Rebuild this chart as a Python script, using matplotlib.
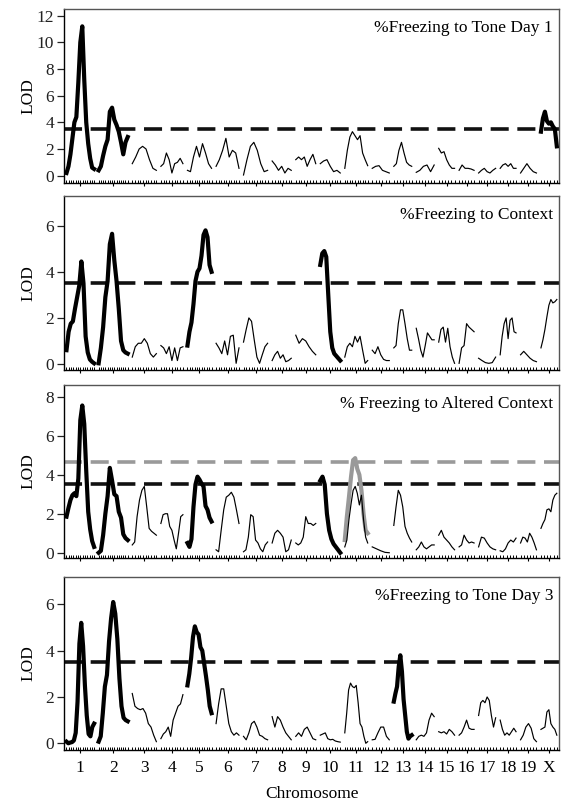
import numpy as np
import matplotlib
matplotlib.use("Agg")
import matplotlib.pyplot as plt

plt.rcParams['font.family'] = ['Liberation Serif', 'DejaVu Serif']
plt.rcParams['lines.scale_dashes'] = False

# ---------------- data ----------------
chromosomes = ['1', '2', '3', '4', '5', '6', '7', '8', '9', '10',
               '11', '12', '13', '14', '15', '16', '17', '18', '19', 'X']
chrom_len_cM = [94, 99, 82, 75, 82, 78, 82, 65, 68, 68,
                78, 58, 61, 61, 54, 51, 58, 54, 54, 54]
chrom_gap_cM = 15.4
markers_per_chrom = [13, 14, 10, 9, 11, 10, 10, 8, 8, 8,
                     10, 6, 7, 7, 6, 6, 7, 6, 6, 6]

threshold_black = 3.5
threshold_gray = 4.65

titles = ['%Freezing to Tone Day 1', '%Freezing to Context',
          '% Freezing to Altered Context', '%Freezing to Tone Day 3']

lod_tone_day1 = [
    [0.2, 0.7, 1.6, 2.8, 4.0, 4.4, 7.0, 10.0, 11.2, 7.2, 4.0, 2.4, 1.3, 0.6, 0.5],
    [0.4, 0.7, 1.5, 2.2, 2.7, 4.8, 5.1, 4.2, 3.8, 3.3, 2.5, 1.6, 2.5, 2.9],
    [0.9, 1.4, 2.0, 2.2, 2.0, 1.2, 0.55, 0.4],
    [0.7, 0.9, 1.7, 1.2, 0.2, 0.9, 1.0, 1.3, 0.9],
    [0.4, 0.3, 1.4, 2.2, 1.4, 2.4, 1.7, 0.9, 0.55],
    [0.7, 1.2, 1.9, 2.8, 1.4, 1.9, 1.7, 0.55],
    [0.05, 1.2, 2.2, 2.5, 1.9, 0.9, 0.3, 0.4],
    [1.1, 0.8, 0.4, 0.7, 0.2, 0.55, 0.4],
    [1.2, 1.4, 1.2, 1.4, 0.7, 1.2, 1.6, 0.9],
    [0.9, 1.1, 1.2, 0.7, 0.3, 0.4, 0.2],
    [0.55, 1.9, 2.9, 3.3, 3.0, 2.7, 3.0, 1.7, 1.2, 0.75],
    [0.55, 0.7, 0.75, 0.4, 0.3, 0.2],
    [0.7, 0.9, 1.9, 2.5, 1.7, 1.0, 0.8, 0.7],
    [0.25, 0.4, 0.7, 0.8, 0.3, 0.8],
    [2.05, 1.7, 1.8, 1.2, 0.8, 0.55, 0.55],
    [0.4, 0.8, 0.55, 0.55, 0.5, 0.4],
    [0.2, 0.4, 0.55, 0.3, 0.2, 0.4, 0.55],
    [0.55, 0.8, 0.9, 0.7, 0.9, 0.55, 0.55],
    [0.2, 0.55, 0.9, 0.55, 0.3, 0.2],
    [3.3, 4.3, 4.8, 4.1, 3.9, 4.0, 3.7, 3.5, 2.2],
]
thick_tone_day1 = ['1', '2', 'X']

lod_context = [
    [0.6, 1.4, 1.75, 1.85, 2.4, 2.9, 3.4, 4.45, 3.5, 1.2, 0.5, 0.2, 0.1, 0.03],
    [0.03, 0.7, 1.6, 2.9, 3.6, 5.2, 5.65, 4.5, 3.6, 2.4, 1.0, 0.6, 0.5, 0.45],
    [0.3, 0.75, 0.9, 0.9, 1.1, 0.9, 0.45, 0.3, 0.45],
    [0.8, 0.7, 0.45, 0.75, 0.15, 0.7, 0.15, 0.7, 0.75],
    [0.8, 1.4, 1.8, 2.6, 3.6, 4.0, 4.15, 4.7, 5.6, 5.8, 5.5, 4.3, 4.0],
    [0.9, 0.7, 0.45, 1.0, 0.4, 1.2, 1.25, 0.03, 0.7],
    [0.95, 1.5, 2.0, 1.85, 1.05, 0.3, 0.03, 0.4, 0.75, 0.9],
    [0.15, 0.4, 0.55, 0.25, 0.4, 0.1, 0.15, 0.25],
    [1.25, 0.9, 1.1, 1.0, 0.75, 0.55, 0.4],
    [4.3, 4.8, 4.9, 4.65, 3.0, 1.4, 0.7, 0.45, 0.35, 0.25, 0.15],
    [0.3, 0.75, 0.9, 0.75, 1.2, 0.95, 1.2, 0.6, 0.03, 0.15],
    [0.6, 0.45, 0.75, 0.4, 0.2, 0.15, 0.15],
    [0.7, 0.8, 1.75, 2.35, 2.35, 1.75, 1.1, 0.6, 0.6],
    [1.55, 1.1, 0.6, 0.3, 0.8, 1.35, 1.2, 1.05, 1.05],
    [0.95, 1.5, 1.6, 0.95, 1.55, 0.75, 0.3, 0.03],
    [0.03, 0.7, 0.8, 1.75, 1.6, 1.5, 1.4],
    [0.25, 0.15, 0.06, 0.03, 0.06, 0.3],
    [0.4, 1.2, 1.75, 2.0, 1.1, 1.9, 2.0, 1.4, 1.35],
    [0.4, 0.55, 0.4, 0.25, 0.15, 0.1],
    [0.7, 1.05, 1.5, 2.05, 2.55, 2.8, 2.65, 2.7, 2.8],
]
thick_context = ['1', '2', '5', '10']

lod_altered_context = [
    [1.85, 2.3, 2.7, 2.95, 3.05, 2.9, 3.8, 6.8, 7.55, 6.6, 4.2, 2.1, 1.2, 0.6, 0.3],
    [0.0, 0.1, 0.9, 2.0, 2.9, 4.35, 3.7, 3.0, 2.9, 2.1, 1.8, 0.95, 0.75, 0.65],
    [0.4, 0.55, 1.85, 2.7, 3.2, 3.4, 2.35, 1.25, 1.1, 1.0, 0.9],
    [1.5, 1.95, 2.0, 2.0, 1.35, 1.15, 0.65, 0.2, 1.0, 1.85, 1.95],
    [0.5, 0.3, 0.7, 2.35, 3.5, 3.9, 3.75, 3.55, 3.4, 2.4, 2.2, 1.8, 1.6],
    [0.15, 0.05, 1.15, 2.2, 2.85, 2.95, 3.1, 2.85, 2.2, 1.5],
    [0.05, 0.15, 0.8, 1.95, 1.85, 0.65, 0.5, 0.2, 0.05, 0.4, 0.55],
    [0.5, 1.0, 1.15, 1.0, 0.8, 0.05, 0.15, 0.65],
    [0.5, 0.4, 0.5, 0.8, 1.85, 1.5, 1.5, 1.4, 1.5],
    [3.7, 3.9, 3.5, 2.0, 1.15, 0.7, 0.45, 0.3, 0.15, 0.0],
    [0.3, 0.65, 1.7, 2.5, 3.2, 3.4, 3.05, 2.45, 2.95, 1.7, 0.8, 0.5],
    [0.3, 0.2, 0.1, 0.02, 0.0],
    [1.4, 2.35, 3.2, 2.95, 2.35, 1.35, 1.0, 0.75, 0.55],
    [0.15, 0.3, 0.55, 0.3, 0.2, 0.3, 0.4, 0.4],
    [0.9, 1.15, 0.8, 0.65, 0.5, 0.3, 0.15],
    [0.3, 0.4, 0.9, 0.65, 0.5, 0.55, 0.5],
    [0.3, 0.8, 0.75, 0.5, 0.3, 0.2, 0.15],
    [0.1, 0.05, 0.2, 0.5, 0.65, 0.55, 0.75],
    [0.5, 0.8, 0.75, 0.55, 1.0, 0.8, 0.5, 0.15],
    [1.25, 1.5, 1.7, 2.2, 2.25, 2.1, 2.7, 2.95, 3.05],
]
thick_altered_context = ['1', '2', '5', '10']
gray_chrom_altered = '11'
lod_altered_context_gray = [0.65, 1.85, 2.85, 3.9, 4.75, 4.85, 4.3, 4.0, 3.2, 2.0, 1.15, 1.0]

lod_tone_day3 = [
    [0.07, 0.0, 0.03, 0.05, 0.12, 0.45, 1.8, 4.3, 5.2, 4.2, 2.5, 1.2, 0.4, 0.3, 0.7, 0.85],
    [0.07, 0.3, 1.3, 2.45, 2.95, 4.4, 5.4, 6.1, 5.6, 4.5, 2.8, 1.6, 1.1, 1.0, 0.95],
    [2.15, 1.6, 1.5, 1.45, 1.5, 1.3, 0.85, 0.7, 0.35, 0.07],
    [0.2, 0.4, 0.5, 0.7, 0.3, 1.0, 1.3, 1.6, 1.7, 2.1],
    [2.5, 3.0, 3.7, 4.6, 5.05, 4.8, 4.7, 4.15, 4.0, 3.45, 2.9, 2.3, 1.6, 1.3],
    [0.85, 1.7, 2.35, 2.35, 1.6, 0.85, 0.5, 0.35, 0.45, 0.35],
    [0.3, 0.15, 0.45, 0.85, 0.95, 0.7, 0.35, 0.3, 0.2, 0.15],
    [1.15, 0.7, 1.15, 1.0, 0.7, 0.45, 0.3, 0.15],
    [0.3, 0.45, 0.3, 0.6, 0.7, 0.45, 0.2, 0.15],
    [0.35, 0.4, 0.45, 0.2, 0.15, 0.17, 0.1, 0.07, 0.05],
    [0.45, 1.3, 2.3, 2.6, 2.45, 2.4, 2.5, 1.75, 0.85, 0.7, 0.3, 0.0, 0.07],
    [0.15, 0.17, 0.45, 0.7, 0.7, 0.3, 0.15],
    [1.8, 2.15, 2.45, 3.3, 3.8, 3.1, 1.9, 1.2, 0.5, 0.2, 0.3, 0.35],
    [0.15, 0.3, 0.35, 0.3, 0.45, 1.0, 1.3, 1.15],
    [0.5, 0.45, 0.5, 0.4, 0.6, 0.5, 0.35],
    [0.35, 0.45, 0.7, 1.0, 0.65, 0.6, 0.6],
    [1.2, 1.75, 1.85, 1.75, 2.0, 1.85, 1.2, 0.7, 1.1],
    [1.0, 0.6, 0.35, 0.45, 0.35, 0.5, 0.65, 0.5],
    [0.15, 0.35, 0.7, 0.85, 0.65, 0.2, 0.07],
    [0.6, 0.65, 0.7, 1.35, 1.45, 0.85, 0.7, 0.6, 0.35],
]
thick_tone_day3 = ['1', '2', '5', '13']

# ---------------- layout ----------------
W, H = 566, 802
fig = plt.figure(figsize=(W / 100, H / 100), dpi=100)

chrom_start = np.concatenate([[0.0], np.cumsum(np.array(chrom_len_cM) + chrom_gap_cM)[:-1]])
chrom_mid = chrom_start + np.array(chrom_len_cM) / 2.0

# pixel boxes (left, top, right, bottom) and y settings
panel_boxes = [(64, 9, 559, 183), (64, 196, 559, 370), (64, 385, 559, 558), (64, 577, 559, 750)]
panel_ylim = [(-0.55, 12.5), (-0.26, 7.29), (-0.27, 8.6), (-0.29, 7.18)]
panel_yticks = [[0, 2, 4, 6, 8, 10, 12], [0, 2, 4, 6], [0, 2, 4, 6, 8], [0, 2, 4, 6]]
panel_lod = [lod_tone_day1, lod_context, lod_altered_context, lod_tone_day3]
panel_thick = [thick_tone_day1, thick_context, thick_altered_context, thick_tone_day3]

FS = 12.5
for p in range(4):
    l, t, r, b = panel_boxes[p]
    ax = fig.add_axes([l / W, 1 - b / H, (r - l) / W, (b - t) / H])
    ax.set_xlim(-8.5, 1676)
    ax.set_ylim(*panel_ylim[p])

    # threshold lines
    ax.axhline(threshold_black, color='#111111', lw=2.6, dashes=(13, 6.2), zorder=1)
    if p == 2:
        ax.axhline(threshold_gray, color='#9a9a9a', lw=2.6, dashes=(13, 6.2), zorder=1)

    for i, vals in enumerate(panel_lod[p]):
        pos = np.linspace(chrom_start[i], chrom_start[i] + chrom_len_cM[i], len(vals))
        if p == 2 and chromosomes[i] == gray_chrom_altered:
            gpos = np.linspace(chrom_start[i], chrom_start[i] + chrom_len_cM[i],
                               len(lod_altered_context_gray))
            ax.plot(gpos, lod_altered_context_gray, color='#999999', lw=3.0,
                    solid_joinstyle='round', zorder=2)
        thick = chromosomes[i] in panel_thick[p]
        ax.plot(pos, vals, color='black', lw=3.0 if thick else 0.85,
                solid_joinstyle='round', zorder=3)

        # marker rug
        mpos = np.linspace(chrom_start[i], chrom_start[i] + chrom_len_cM[i], markers_per_chrom[i])
        ax.vlines(mpos, 0, 0.018, transform=ax.get_xaxis_transform(), color='black', lw=0.7)

    for side in ['left', 'bottom']:
        ax.spines[side].set_color('black')
        ax.spines[side].set_linewidth(1.0)
    for side in ['top', 'right']:
        ax.spines[side].set_color('#555555')
        ax.spines[side].set_linewidth(1.0)

    ax.set_yticks(panel_yticks[p])
    ax.tick_params(axis='y', direction='out', length=5, width=0.9, labelsize=FS, pad=2,
                   colors='#222222')
    ax.set_xticks(chrom_mid)
    if p == 3:
        ax.set_xticklabels(chromosomes)
        ax.tick_params(axis='x', direction='out', length=2, width=0.8, labelsize=FS, pad=5)
    else:
        ax.set_xticklabels([])
        ax.tick_params(axis='x', direction='out', length=2, width=0.8)

    ax.text(-0.072, 0.5, 'LOD', rotation=90, ha='center', va='center',
            fontsize=FS, transform=ax.transAxes)
    ax.text(0.988, 1 - 19 / (b - t), titles[p], ha='right', va='center',
            fontsize=FS, transform=ax.transAxes)

fig.text(311.5 / W, 1 - 794 / H, 'Chromosome', ha='center', va='center', fontsize=FS)

fig.savefig('out.png', dpi=100)
